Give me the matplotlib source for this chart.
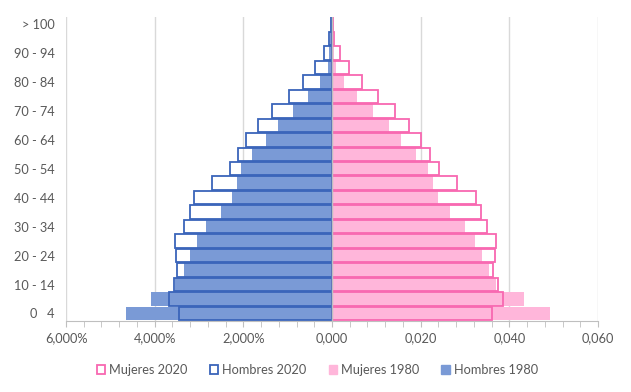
import matplotlib
matplotlib.use("Agg")
import matplotlib.pyplot as plt
from matplotlib.patches import Patch
from matplotlib.ticker import MultipleLocator
import numpy as np

plt.rcParams['font.family'] = ['Lato', 'DejaVu Sans']

age_groups = ["0 - 4", "5 - 9", "10 - 14", "15 - 19", "20 - 24", "25 - 29", "30 - 34",
              "35 - 39", "40 - 44", "45 - 49", "50 - 54", "55 - 59", "60 - 64", "65 - 69",
              "70 - 74", "75 - 79", "80 - 84", "85 - 89", "90 - 94", "95 - 99", "> 100"]
ytick_labels = ["0   4", "", "10 - 14", "", "20 - 24", "", "30 - 34", "", "40 - 44", "",
                "50 - 54", "", "60 - 64", "", "70 - 74", "", "80 - 84", "", "90 - 94", "", "> 100"]

hombres_2020 = [0.0345, 0.0368, 0.0356, 0.0350, 0.0352, 0.0354, 0.0334, 0.0320, 0.0311, 0.0271,
                0.0230, 0.0212, 0.0194, 0.0167, 0.0135, 0.0097, 0.0065, 0.0038, 0.0018, 0.0007, 0.0002]
hombres_1980 = [0.0465, 0.0408, 0.0354, 0.0334, 0.0320, 0.0304, 0.0284, 0.0250, 0.0226, 0.0214,
                0.0205, 0.0180, 0.0149, 0.0122, 0.0088, 0.0054, 0.0027, 0.0009, 0.0007, 0.0004, 0.0001]
mujeres_2020 = [0.0360, 0.0386, 0.0374, 0.0364, 0.0368, 0.0369, 0.0349, 0.0335, 0.0325, 0.0283,
                0.0242, 0.0222, 0.0201, 0.0174, 0.0142, 0.0103, 0.0067, 0.0038, 0.0018, 0.0005, 0.0003]
mujeres_1980 = [0.0491, 0.0432, 0.0371, 0.0354, 0.0338, 0.0322, 0.0300, 0.0266, 0.0239, 0.0227,
                0.0217, 0.0190, 0.0156, 0.0129, 0.0093, 0.0057, 0.0027, 0.0009, 0.0005, 0.0002, 0.0001]

xticks = [-0.06, -0.04, -0.02, 0.0, 0.02, 0.04, 0.06]
xtick_labels = ["6,000%", "4,000%", "2,000%", "0,000", "0,020", "0,040", "0,060"]

c_m_fill = "#FFB6DA"
c_m_edge = "#F868B1"
c_h_fill = "#7A9AD6"
c_h_edge = "#3A64BA"
txt = "#595959"
fs = 9.2

fig = plt.figure(figsize=(6.31, 3.92), dpi=100)
ax = fig.add_axes([0.1046, 0.1818, 0.8431, 0.7755])

y = np.arange(len(age_groups))
h = 0.93
ax.barh(y, mujeres_1980, height=h, color=c_m_fill, zorder=2)
ax.barh(y, -np.array(hombres_1980), height=h, color=c_h_fill, zorder=2)
ax.barh(y, mujeres_2020, height=h, facecolor="none", edgecolor=c_m_edge, linewidth=1.3, zorder=3)
ax.barh(y, -np.array(hombres_2020), height=h, facecolor="none", edgecolor=c_h_edge, linewidth=1.3, zorder=3)

ax.set_xlim(-0.06, 0.06)
ax.set_ylim(-0.5, len(age_groups) - 0.5)
ax.set_xticks(xticks)
ax.set_xticklabels(xtick_labels, color=txt, fontsize=fs)
ax.xaxis.set_minor_locator(MultipleLocator(0.004))
ax.set_yticks(y)
ax.set_yticklabels(ytick_labels, color=txt, fontsize=fs)
ax.tick_params(axis='y', length=0, pad=8)
ax.tick_params(axis='x', which='both', length=4, color="#BFBFBF", pad=4, direction='out')

ax.grid(axis='x', which='major', color="#D9D9D9", linewidth=1, zorder=0)
ax.set_axisbelow(True)
for s in ['top', 'right', 'left']:
    ax.spines[s].set_visible(False)
ax.spines['bottom'].set_color("#BFBFBF")
ax.axvline(0, color="#BFBFBF", linewidth=1, zorder=4)

handles = [Patch(facecolor="white", edgecolor=c_m_edge, linewidth=1.3, label="Mujeres 2020"),
           Patch(facecolor="white", edgecolor=c_h_edge, linewidth=1.3, label="Hombres 2020"),
           Patch(facecolor=c_m_fill, edgecolor=c_m_fill, label="Mujeres 1980"),
           Patch(facecolor=c_h_fill, edgecolor=c_h_fill, label="Hombres 1980")]
leg = fig.legend(handles=handles, loc='center', bbox_to_anchor=(0.503, 0.056), ncol=4,
                 frameon=False, fontsize=fs, handlelength=0.65, handleheight=0.65,
                 handletextpad=0.3, columnspacing=1.75)
for t in leg.get_texts():
    t.set_color(txt)

fig.savefig("out.png", dpi=100)
